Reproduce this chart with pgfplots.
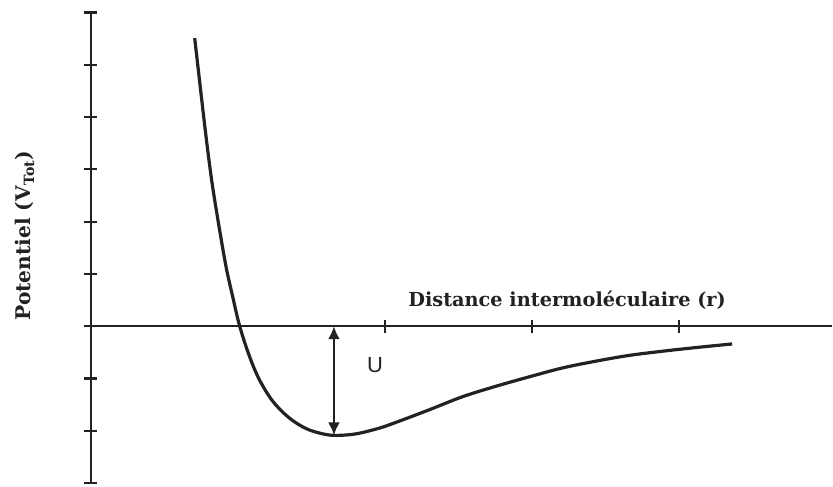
\documentclass[border=0pt]{standalone}
\usepackage{fontspec}
\setmainfont{DejaVu Serif}
\newfontfamily\usans{Liberation Sans}
\usepackage{pgfplots}
\pgfplotsset{compat=1.18}
\usetikzlibrary{arrows.meta}
\definecolor{ink}{RGB}{34,34,34}
\begin{document}
\begin{tikzpicture}
\begin{axis}[
    scale only axis,
    width=742bp, height=471bp,
    xmin=0, xmax=5.04,
    ymin=-3, ymax=6,
    axis x line=middle,
    axis y line=left,
    axis line style={-, ink},
    x axis line style={line width=2bp},
    y axis line style={line width=2.6bp},
    xtick={2,3,4},
    ytick={-3,-2,...,6},
    xticklabels={}, yticklabels={},
    tick align=center,
    major tick length=13bp,
    tick style={ink, line width=2.2bp},
    clip=false,
]
% bounding box of the whole figure
\path (axis cs:-0.618,-3.07) rectangle (axis cs:5.04,6.24);

\addplot[ink, line width=3.2bp, smooth, tension=0.55] coordinates {
    (0.706,5.51) (0.745,4.55) (0.783,3.63) (0.822,2.78) (0.866,2.00)
    (0.919,1.14) (0.964,0.57) (1.012,0.00) (1.079,-0.58) (1.147,-1.03)
    (1.238,-1.44) (1.351,-1.76) (1.464,-1.96) (1.577,-2.06) (1.668,-2.09)
    (1.804,-2.06) (1.962,-1.95) (2.075,-1.84) (2.301,-1.60) (2.527,-1.35)
    (2.754,-1.15) (2.980,-0.97) (3.206,-0.80) (3.433,-0.67) (3.659,-0.56)
    (3.885,-0.48) (4.112,-0.41) (4.361,-0.34)
};

% depth of the well
\draw[ink, line width=2.6bp, {Latex[length=13bp,width=12bp]}-{Latex[length=13bp,width=12bp]}]
    (axis cs:1.653,0) -- (axis cs:1.653,-2.09);
\node[ink] at (axis cs:1.933,-0.741) {\usans\fontsize{22}{24}\selectfont U};

\node[ink, font=\bfseries\fontsize{19.4}{21}\selectfont] at (axis cs:3.238,0.487)
    {Distance intermoléculaire (r)};
\node[ink, rotate=90, font=\bfseries\fontsize{20.3}{22}\selectfont] at (axis cs:-0.448,1.73)
    {Potentiel (V\textsubscript{Tot})};
\end{axis}
\end{tikzpicture}
\end{document}
